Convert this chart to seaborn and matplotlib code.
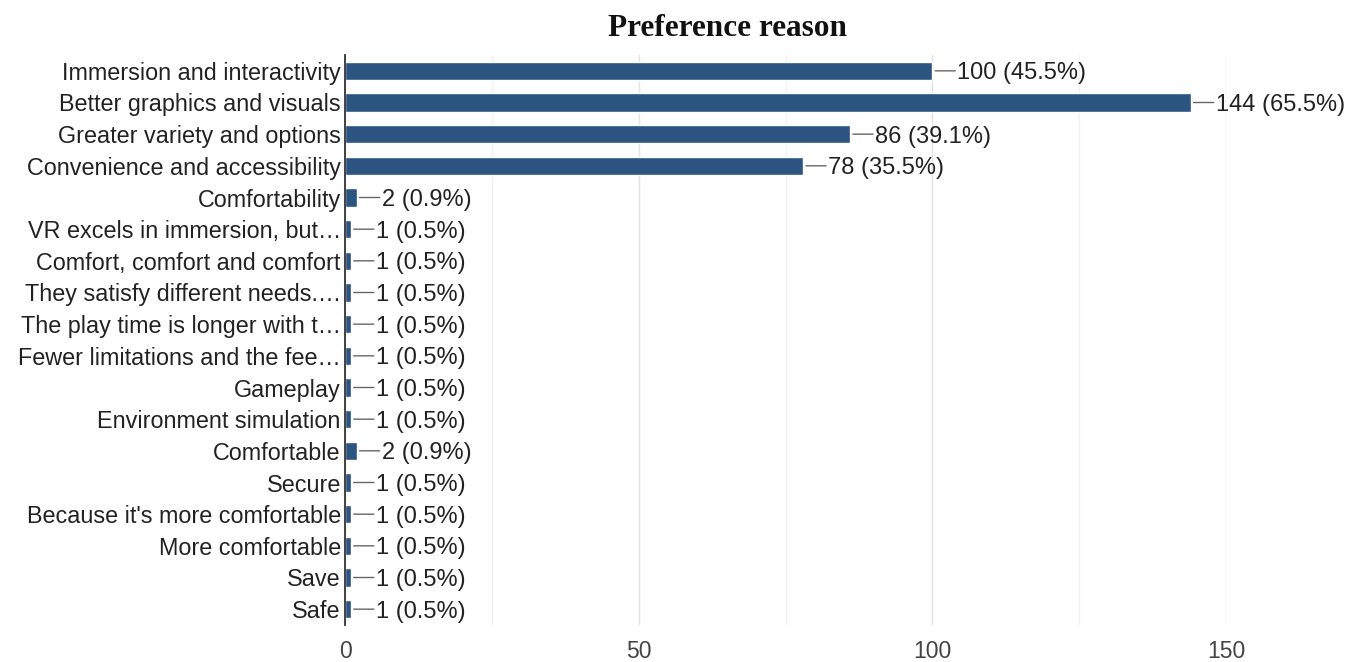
import matplotlib
matplotlib.use("Agg")
import matplotlib.pyplot as plt
import seaborn as sns
import pandas as pd
from matplotlib.ticker import MultipleLocator

# Survey answers: why respondents prefer their choice
reasons = [
    "Immersion and interactivity",
    "Better graphics and visuals",
    "Greater variety and options",
    "Convenience and accessibility",
    "Comfortability",
    "VR excels in immersion, but\u2026",
    "Comfort, comfort and comfort",
    "They satisfy different needs.\u2026",
    "The play time is longer with t\u2026",
    "Fewer limitations and the fee\u2026",
    "Gameplay",
    "Environment simulation",
    "Comfortable",
    "Secure",
    "Because it's more comfortable",
    "More comfortable",
    "Save",
    "Safe",
]
counts = [100, 144, 86, 78, 2, 1, 1, 1, 1, 1, 1, 1, 2, 1, 1, 1, 1, 1]
respondents = 220
x_ticks = [0, 50, 100, 150]

bar_color = "#2b5481"
text_color = "#222222"

sns.set_theme(style="white")
plt.rcParams["font.family"] = ["Liberation Sans", "DejaVu Sans"]

W, H = 1359, 662
fig = plt.figure(figsize=(W / 100, H / 100), dpi=100)
left, right, top, bottom = 345, 1226, 55, 625
ax = fig.add_axes([left / W, 1 - bottom / H, (right - left) / W, (bottom - top) / H])

df = pd.DataFrame({"reason": reasons, "count": counts})
sns.barplot(data=df, x="count", y="reason", orient="h", color=bar_color,
            saturation=1, width=0.58, ax=ax, zorder=3)

ax.set_xlim(x_ticks[0], x_ticks[-1])
ax.set_ylim(len(reasons) - 0.5, -0.5)
ax.xaxis.set_major_locator(MultipleLocator(50))
ax.xaxis.set_minor_locator(MultipleLocator(25))
ax.set_xticks(x_ticks)
ax.grid(which="major", axis="x", color="#e2e2e2", lw=1)
ax.grid(which="minor", axis="x", color="#f1f1f1", lw=1)
ax.set_axisbelow(True)

for side in ("top", "right", "bottom"):
    ax.spines[side].set_visible(False)
ax.spines["left"].set_color("#333333")
ax.spines["left"].set_linewidth(1.3)
ax.spines["left"].set_zorder(5)

ax.set_xlabel("")
ax.set_ylabel("")
ax.tick_params(axis="y", length=0, pad=3, labelsize=16.8, labelcolor=text_color)
ax.tick_params(axis="x", which="both", length=0, pad=11, labelsize=16.5, labelcolor="#444444")

# value labels with a short horizontal leader line from the bar end
for i, v in enumerate(counts):
    pct = v / respondents * 100
    ax.annotate("", xy=(v, i), xytext=(23, 0), textcoords="offset pixels",
                arrowprops=dict(arrowstyle="-", color="#666666", lw=1,
                                shrinkA=0, shrinkB=2))
    ax.annotate(f"{v} ({pct:.1f}%)", xy=(v, i), xytext=(25, 0),
                textcoords="offset pixels", ha="left", va="center_baseline",
                fontsize=17, color=text_color)

fig.text(728 / W, 1 - 29 / H, "Preference reason", ha="center", va="center",
         fontsize=22.5, fontweight="bold", family=["Liberation Serif", "DejaVu Serif"],
         color="#111111")

fig.savefig("out.png", dpi=100, facecolor="white")
